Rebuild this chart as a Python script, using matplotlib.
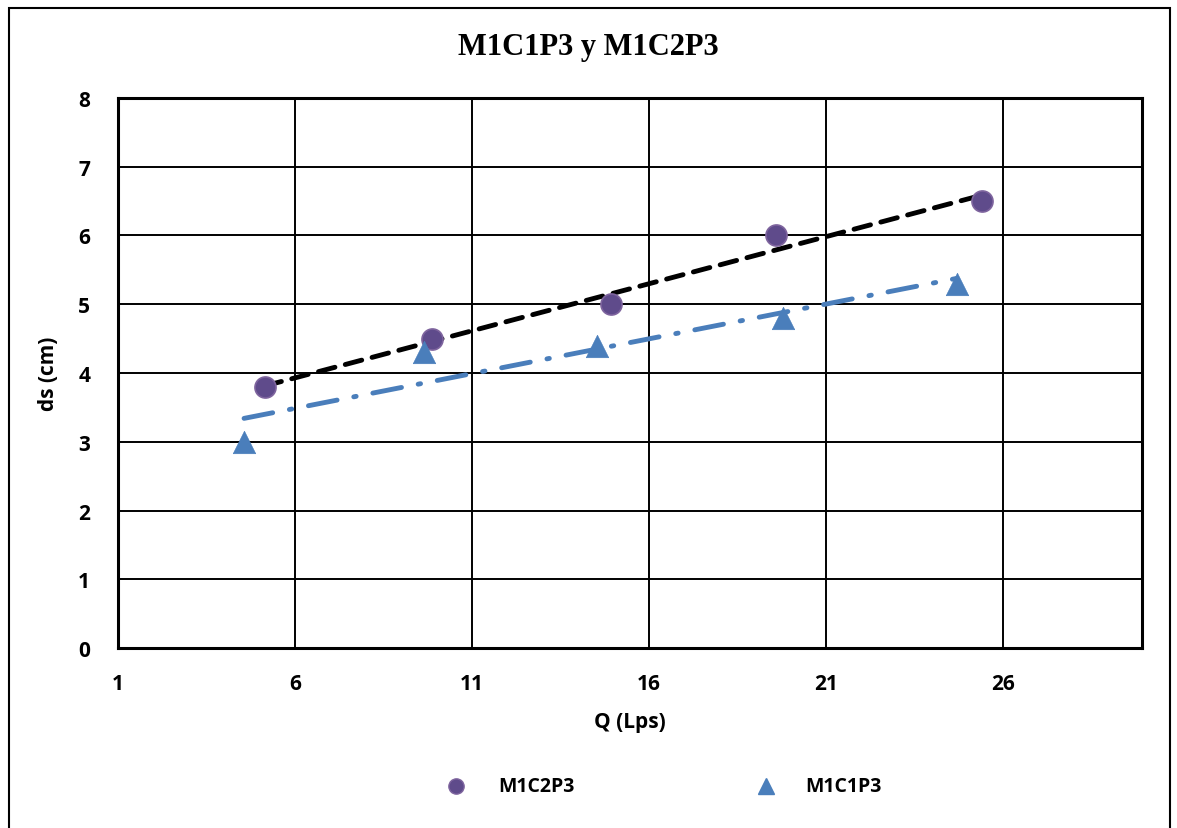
import numpy as np
import matplotlib
matplotlib.use("Agg")
import matplotlib.pyplot as plt
from matplotlib.patches import Rectangle
from matplotlib.lines import Line2D

# Data
q_c2 = [5.15, 9.87, 14.93, 19.6, 25.4]
ds_c2 = [3.8, 4.5, 5.0, 6.0, 6.5]
q_c1 = [4.56, 9.64, 14.53, 19.8, 24.7]
ds_c1 = [3.0, 4.3, 4.4, 4.8, 5.3]
name_c2 = "M1C2P3"
name_c1 = "M1C1P3"
x_ticks = [1, 6, 11, 16, 21, 26]
y_ticks = [0, 1, 2, 3, 4, 5, 6, 7, 8]

FONT = 'Open Sans'
fig = plt.figure(figsize=(11.77, 8.29), dpi=100)
ax = fig.add_axes([0.1003, 0.2171, 0.8700, 0.6635])

# outer frame
fig.patches.append(Rectangle((0.0077, -0.01), 0.9865, 0.999, transform=fig.transFigure,
                             fill=False, edgecolor='black', linewidth=1.5))

ax.set_xlim(1, 29.93)
ax.set_ylim(0, 8)
ax.set_xticks(x_ticks)
ax.set_yticks(y_ticks)
ax.grid(True, color='black', linewidth=1.4)
ax.set_axisbelow(True)
for s in ax.spines.values():
    s.set_linewidth(2.2)
    s.set_color('black')
ax.tick_params(axis='x', length=0, pad=18)
ax.tick_params(axis='y', length=0, pad=20)
for lab in ax.get_xticklabels() + ax.get_yticklabels():
    lab.set_fontfamily(FONT)
    lab.set_fontweight('bold')
    lab.set_fontsize(15)

# trendlines
for xs, ys, col, ls in [(q_c2, ds_c2, 'black', (0, (3.5, 2.2))),
                        (q_c1, ds_c1, '#4A7EBB', (0, (6, 3.5, 0.5, 3.5)))]:
    m, b = np.polyfit(xs, ys, 1)
    xx = np.array([min(xs), max(xs)])
    ax.plot(xx, m * xx + b, color=col, linewidth=3.5, linestyle=ls,
            dash_capstyle='round', solid_capstyle='round', zorder=3)

ax.scatter(q_c2, ds_c2, s=230, color='#5F4B8B', edgecolors='#7E649E', linewidths=1.2, zorder=4)
ax.scatter(q_c1, ds_c1, s=260, marker='^', color='#4A7EBB', edgecolors='#4A7EBB', linewidths=0.5, zorder=4)

ax.set_xlabel("Q (Lps)", fontfamily=FONT, fontweight='bold', fontsize=15, labelpad=12)
ax.set_ylabel("ds (cm)", fontfamily=FONT, fontweight='bold', fontsize=15, labelpad=14)

fig.text(0.5, 0.943, "M1C1P3 y M1C2P3", ha='center', va='center',
         fontfamily='Liberation Serif', fontweight='bold', fontsize=22)

# legend (placed manually)
ly = 1 - 787 / 829
fig.add_artist(Line2D([456 / 1177], [ly], marker='o', linestyle='none', markersize=11,
                      markerfacecolor='#5F4B8B', markeredgecolor='#7E649E',
                      transform=fig.transFigure))
fig.add_artist(Line2D([766 / 1177], [ly], marker='^', linestyle='none', markersize=12,
                      markerfacecolor='#4A7EBB', markeredgecolor='#4A7EBB',
                      transform=fig.transFigure))
fig.text(498 / 1177, ly, name_c2, ha='left', va='center', fontfamily=FONT,
         fontweight='bold', fontsize=14)
fig.text(805 / 1177, ly, name_c1, ha='left', va='center', fontfamily=FONT,
         fontweight='bold', fontsize=14)

fig.savefig("out.png", dpi=100)
